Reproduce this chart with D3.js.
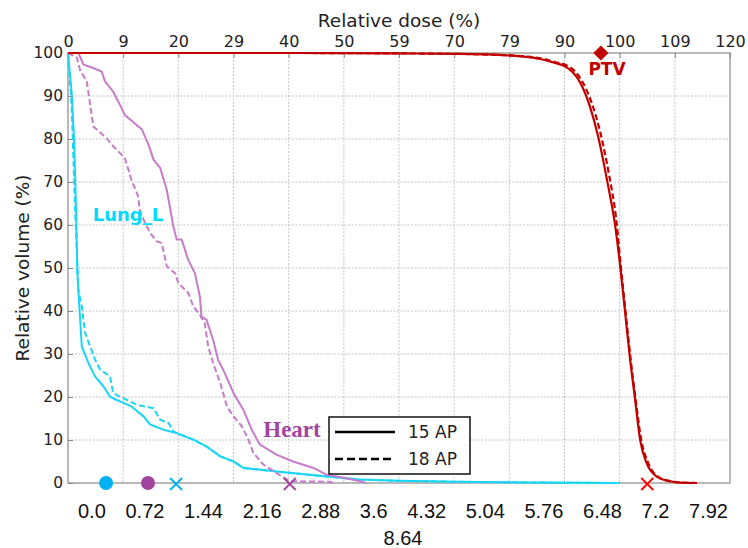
<!DOCTYPE html>
<html><head><meta charset="utf-8">
<script src="https://cdn.jsdelivr.net/npm/d3@7"></script>
<style>
html,body{margin:0;padding:0;background:#fff;}
svg{display:block;}
</style></head>
<body>
<svg id="chart" width="748" height="548"></svg>
<script>
// ---------- data ----------
const doseTicks = [0,10,20,30,40,50,60,70,80,90,100,110,120];
const topTickLabels = ["0","9","20","29","40","50","59","70","79","90","100","109","120"];
const bottomTickLabels = ["0.0","0.72","1.44","2.16","2.88","3.6","4.32","5.04","5.76","6.48","7.2","7.92","8.64"];
const volumeTicks = [0,10,20,30,40,50,60,70,80,90,100];

const ptv15 = [[0,100],[40,100],[60,99.9],[70,99.8],[79,99.5],[83,99.1],[85.6,98.6],[88,97.8],[90.1,96.9],[91.6,95.4],[92.8,93.2],[94.6,87.6],[96.1,80.6],[97.7,70.5],[99.2,59.7],[100.1,50.4],[101,39.5],[101.9,28.7],[102.8,19.4],[103.7,10.1],[104.9,4.6],[106.7,1.5],[109.1,0.4],[111,0.1],[114,0]];
const ptv18 = [[0,100],[40,100],[60,99.9],[70,99.8],[79,99.5],[83,99.2],[86,98.7],[88.3,97.9],[90.4,97.1],[92,95.6],[93.2,93.4],[94.9,88.5],[96.4,82],[98,72.2],[99.4,61],[100.2,50.5],[101.1,39.5],[102,28.7],[102.9,19.4],[103.9,10.1],[105.2,4.6],[107,1.4],[109.3,0.4],[111,0.1],[114,0]];
const heart15 = [[0,100],[1.9,100],[2.8,97.3],[4.6,96.5],[6.1,95.7],[6.7,93.4],[8.2,91],[9.4,88],[10.3,85.6],[13.4,82.2],[14.6,78.7],[15.5,75.2],[16.7,73.3],[17.9,68.2],[19.1,59.7],[19.7,56.6],[20.6,56.6],[21.8,51.9],[23.0,48.8],[23.9,43.4],[24.2,38.7],[25.1,38],[26.3,33.3],[27.2,28.7],[28.4,25.6],[30.0,20.9],[31.8,17],[33.3,12.4],[34.8,8.9],[37.8,6.6],[40.8,5.0],[44.5,3.5],[46.9,1.9],[50,1.2],[52.9,0.4],[54,0]];
const heart18 = [[0,100],[1.6,99],[2.2,96],[3.4,93.4],[4.6,82.9],[7.0,80.2],[8.2,78.3],[10.3,75.6],[11.5,70.5],[12.7,66.7],[13.1,62.8],[14.9,58.1],[16.1,56.2],[17.0,55.8],[17.9,50.4],[19.4,48.8],[20.0,46.5],[21.8,44.2],[22.7,41.1],[23.9,39.1],[24.8,37.2],[25.4,31.8],[26.3,27.9],[27.6,23.3],[28.8,17.8],[30.0,15.5],[31.5,13.2],[32.7,10.1],[33.6,7.0],[35.4,4.3],[37.8,2.3],[40.2,0.4],[47.5,0.3],[48,0]];
const lung15 = [[0,100],[0.67,90.7],[1.1,79.8],[1.45,64.3],[1.7,48.8],[2.05,41.1],[2.5,31.8],[3.7,27.9],[4.9,24.8],[6.4,22.5],[7.6,20.1],[8.8,19.3],[9.4,19.0],[11.5,17.8],[13.7,15.5],[14.9,13.6],[17.3,12.4],[19.7,11.6],[22.7,10.1],[25.1,8.5],[27.6,6.2],[30.0,5.0],[31.8,3.5],[37.8,2.7],[46.9,1.5],[52.9,0.8],[60,0.5],[70,0.3],[85,0.1],[100,0]];
const lung18 = [[0,100],[0.67,87.6],[1.27,64.3],[1.87,45],[2.5,41],[3.1,34.9],[4.0,31.8],[4.9,28.7],[5.8,26.4],[7.6,24.8],[8.2,20.9],[9.4,20.1],[12.5,18.2],[15.5,17.4],[16.7,14.7],[18.2,14.0],[19.1,12.0],[19.7,11.6],[22.7,10.1],[25.1,8.5],[27.6,6.2],[30,5.0],[31.8,3.5],[37.8,2.7],[46.9,1.5],[52.9,0.8],[60,0.5],[70,0.3],[85,0.1],[100,0]];

const meanDoses = [6.9, 14.5];        // Lung_L, Heart (circles)
const maxDoses = [19.6, 40.2, 105.0]; // Lung_L, Heart, PTV (crosses)
const ptvPrescription = [96.6, 100];  // diamond
const legendLabels = ["15 AP","18 AP"];

// ---------- layout ----------
const L = 68, R = 730, T = 53, B = 483;
const svg = d3.select("#chart");
const x = d3.scaleLinear().domain([0,120]).range([L,R]);
const y = d3.scaleLinear().domain([0,100]).range([B,T]);

const C = {ptv:"#c20000", heart:"#c67bcb", heartTxt:"#a3449f", lung:"#1ad6f6", lungTxt:"#00dbff",
           lungMark:"#00b0f0", heartMark:"#a0449d", ptvMark:"#ff0000"};

// grid
const grid = svg.append("g");
grid.selectAll("line.v").data(doseTicks.slice(1,-1)).join("line")
  .attr("x1",d=>x(d)).attr("x2",d=>x(d)).attr("y1",T).attr("y2",B)
  .attr("stroke","#c4c4c4").attr("stroke-width",1).attr("stroke-dasharray","2,1.5");
grid.selectAll("line.h").data(volumeTicks.slice(1,-1)).join("line")
  .attr("x1",L).attr("x2",R).attr("y1",d=>y(d)).attr("y2",d=>y(d))
  .attr("stroke","#c4c4c4").attr("stroke-width",1).attr("stroke-dasharray","2,1.5");

// top axis
const topAxis = d3.axisTop(x).tickValues(doseTicks).tickSize(-5).tickPadding(6)
  .tickFormat((d,i)=>topTickLabels[i]);
const gt = svg.append("g").attr("transform",`translate(0,${T})`).call(topAxis);
gt.select(".domain").remove();
gt.selectAll(".tick line").attr("stroke","#888");
gt.selectAll(".tick text").attr("font-family","DejaVu Sans").attr("font-size",16).attr("fill","#222");

// left axis
const leftAxis = d3.axisLeft(y).tickValues(volumeTicks).tickSize(-5).tickPadding(5);
const gl = svg.append("g").attr("transform",`translate(${L},0)`).call(leftAxis);
gl.select(".domain").remove();
gl.selectAll(".tick line").attr("stroke","#888");
gl.selectAll(".tick text").attr("font-family","DejaVu Sans").attr("font-size",15.5).attr("fill","#222");

// frame
svg.append("rect").attr("x",L).attr("y",T).attr("width",R-L).attr("height",B-T)
  .attr("fill","none").attr("stroke","#8a8a8a").attr("stroke-width",1.2);

// titles
svg.append("text").attr("x",399).attr("y",27).attr("text-anchor","middle")
  .attr("font-family","DejaVu Sans").attr("font-size",18.5).attr("fill","#222").text("Relative dose (%)");
svg.append("text").attr("transform","translate(28.5,268) rotate(-90)").attr("text-anchor","middle")
  .attr("font-family","DejaVu Sans").attr("font-size",18.5).attr("fill","#222").text("Relative volume (%)");

// curves
const line = d3.line().x(d=>x(d[0])).y(d=>y(d[1]));
const smooth = d3.line().x(d=>x(d[0])).y(d=>y(d[1])).curve(d3.curveMonotoneX);
const curves = [
  {data:lung15, col:C.lung, dash:null, gen:line, w:2},
  {data:lung18, col:C.lung, dash:"6,3", gen:line, w:2},
  {data:heart15, col:C.heart, dash:null, gen:line, w:2},
  {data:heart18, col:C.heart, dash:"6,3", gen:line, w:2},
  {data:ptv15, col:C.ptv, dash:null, gen:smooth, w:2.2},
  {data:ptv18, col:C.ptv, dash:"6,3", gen:smooth, w:2.2}
];
svg.append("g").selectAll("path").data(curves).join("path")
  .attr("d",c=>c.gen(c.data)).attr("fill","none").attr("stroke",c=>c.col)
  .attr("stroke-width",c=>c.w).attr("stroke-dasharray",c=>c.dash)
  .attr("stroke-linejoin","round");

// markers
const circCols = [C.lungMark, C.heartMark];
svg.append("g").selectAll("circle").data(meanDoses).join("circle")
  .attr("cx",d=>x(d)).attr("cy",y(0)).attr("r",7).attr("fill",(d,i)=>circCols[i]);
const crossCols = [C.lungMark, C.heartMark, C.ptvMark];
const s = 6;
svg.append("g").selectAll("path").data(maxDoses).join("path")
  .attr("transform",d=>`translate(${x(d)},${y(0)+1})`)
  .attr("d",`M${-s},${-s}L${s},${s}M${-s},${s}L${s},${-s}`)
  .attr("fill","none").attr("stroke",(d,i)=>crossCols[i]).attr("stroke-width",1.8);
svg.append("path")
  .attr("transform",`translate(${x(ptvPrescription[0])},${y(ptvPrescription[1])}) rotate(45)`)
  .attr("d",d3.symbol().type(d3.symbolSquare).size(115)())
  .attr("fill",C.ptv);

// labels
svg.append("text").attr("x",128).attr("y",221).attr("text-anchor","middle")
  .attr("font-family","DejaVu Sans").attr("font-weight","bold").attr("font-size",18)
  .attr("fill",C.lungTxt).text("Lung_L");
svg.append("text").attr("x",292).attr("y",437).attr("text-anchor","middle")
  .attr("font-family","Liberation Serif").attr("font-weight","bold").attr("font-size",23)
  .attr("fill",C.heartTxt).text("Heart");
svg.append("text").attr("x",607).attr("y",74.5).attr("text-anchor","middle")
  .attr("font-family","DejaVu Sans").attr("font-weight","bold").attr("font-size",17)
  .attr("fill",C.ptv).text("PTV");

// legend
const lg = svg.append("g");
lg.append("rect").attr("x",329).attr("y",417).attr("width",141).attr("height",57)
  .attr("fill","#fff").attr("stroke","#111").attr("stroke-width",1.5);
legendLabels.forEach((t,i)=>{
  const yy = 432 + i*27;
  lg.append("line").attr("x1",335).attr("x2",395).attr("y1",yy).attr("y2",yy)
    .attr("stroke","#000").attr("stroke-width",2.5).attr("stroke-dasharray",i? "8,4":null);
  lg.append("text").attr("x",408).attr("y",yy+6).attr("font-family","DejaVu Sans")
    .attr("font-size",17).attr("fill","#222").text(t);
});

// bottom labels: justified first line, centred wrapped last line
const bx0 = 78, bx1 = 728;
const bt = svg.append("g").attr("font-family","Liberation Sans").attr("font-size",20).attr("fill","#111");
const texts = bt.selectAll("text").data(bottomTickLabels).join("text").text(d=>d);
const widths = texts.nodes().map(n=>n.getComputedTextLength());
const n1 = bottomTickLabels.length - 1;
const total = d3.sum(widths.slice(0,n1));
const gap = (bx1 - bx0 - total)/(n1-1);
let cx = bx0;
texts.each(function(d,i){
  const t = d3.select(this);
  if(i < n1){ t.attr("x",cx).attr("y",518); cx += widths[i] + gap; }
  else { t.attr("x",(bx0+bx1)/2 - widths[i]/2).attr("y",545); }
});
</script>
</body></html>
